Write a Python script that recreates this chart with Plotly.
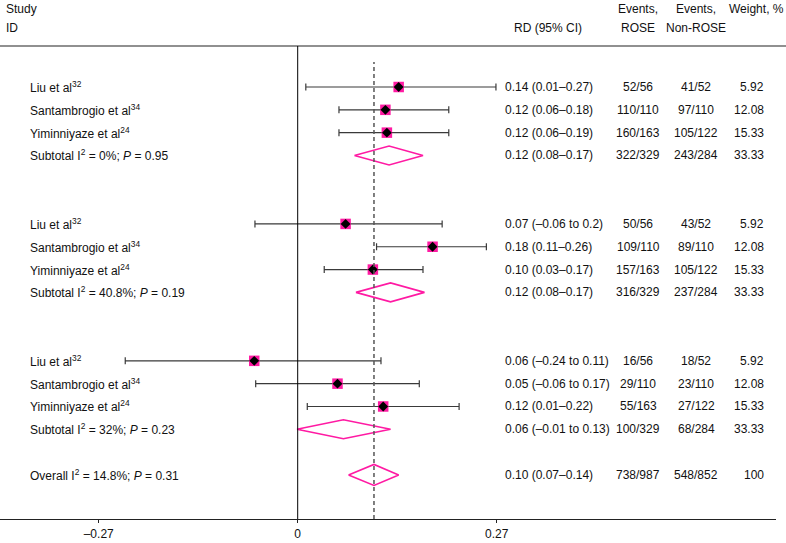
import plotly.graph_objects as go

# ---------------- data ----------------
studies = ["Liu et al<sup>32</sup>", "Santambrogio et al<sup>34</sup>", "Yiminniyaze et al<sup>24</sup>"]

# study estimates and CI limits as drawn, per subgroup
g_est = [[0.137, 0.119, 0.121], [0.065, 0.183, 0.102], [-0.059, 0.054, 0.116]]
g_lo = [[0.011, 0.056, 0.056], [-0.058, 0.107, 0.036], [-0.234, -0.057, 0.013]]
g_hi = [[0.269, 0.205, 0.205], [0.196, 0.256, 0.170], [0.113, 0.165, 0.219]]

sub_est = [0.124, 0.126, 0.062]
sub_lo = [0.077, 0.079, -0.001]
sub_hi = [0.170, 0.172, 0.126]
sub_labels = [
    "Subtotal I<sup>2</sup> = 0%; <i>P</i> = 0.95",
    "Subtotal I<sup>2</sup> = 40.8%; <i>P</i> = 0.19",
    "Subtotal I<sup>2</sup> = 32%; <i>P</i> = 0.23",
]

overall_est = 0.1035
overall_lo = 0.069
overall_hi = 0.137
overall_label = "Overall I<sup>2</sup> = 14.8%; <i>P</i> = 0.31"

rd_text = [
    ["0.14 (0.01–0.27)", "0.12 (0.06–0.18)", "0.12 (0.06–0.19)", "0.12 (0.08–0.17)"],
    ["0.07 (–0.06 to 0.2)", "0.18 (0.11–0.26)", "0.10 (0.03–0.17)", "0.12 (0.08–0.17)"],
    ["0.06 (–0.24 to 0.11)", "0.05 (–0.06 to 0.17)", "0.12 (0.01–0.22)", "0.06 (–0.01 to 0.13)"],
]
ev_rose = [
    ["52/56", "110/110", "160/163", "322/329"],
    ["50/56", "109/110", "157/163", "316/329"],
    ["16/56", "29/110", "55/163", "100/329"],
]
ev_non = [
    ["41/52", "97/110", "105/122", "243/284"],
    ["43/52", "89/110", "105/122", "237/284"],
    ["18/52", "23/110", "27/122", "68/284"],
]
weights = [
    ["5.92", "12.08", "15.33", "33.33"],
    ["5.92", "12.08", "15.33", "33.33"],
    ["5.92", "12.08", "15.33", "33.33"],
]
overall_rd = "0.10 (0.07–0.14)"
overall_rose = "738/987"
overall_non = "548/852"
overall_w = "100"

tick_vals = [-0.27, 0, 0.27]
tick_text = ["–0.27", "0", "0.27"]

# ---------------- layout helpers ----------------
W, H = 786, 543
PLOT_R = 776          # right edge of plot area (px)
PLOT_B = 519          # bottom of plot area (px)
PINK = "#FF1AA3"
FONT = "Liberation Sans"


def px(p):
    return p / PLOT_R


def py(p):
    return (PLOT_B - p) / PLOT_B


# row positions: 3 studies + subtotal per group, 2 blank rows between groups
group_rows = []
study_rows = []
sub_rows = []
r = 0
for g in range(3):
    rows = [r, r + 1, r + 2]
    study_rows.append(rows)
    sub_rows.append(r + 3)
    group_rows.append(rows + [r + 3])
    r += 6
overall_row = sub_rows[-1] + 2

fig = go.Figure()

# CI lines
xs, ys, plus, minus = [], [], [], []
for g in range(3):
    for i in range(3):
        xs.append(g_est[g][i])
        ys.append(study_rows[g][i])
        plus.append(g_hi[g][i] - g_est[g][i])
        minus.append(g_est[g][i] - g_lo[g][i])

fig.add_trace(go.Scatter(
    x=xs, y=ys, mode="markers", marker=dict(size=1, color="rgba(0,0,0,0)"),
    error_x=dict(type="data", symmetric=False, array=plus, arrayminus=minus,
                 color="#3a3a3a", thickness=1.2, width=3.5),
    hoverinfo="skip", showlegend=False))

# pink squares
fig.add_trace(go.Scatter(
    x=xs, y=ys, mode="markers",
    marker=dict(symbol="square", size=10.5, color=PINK, line=dict(width=0)),
    showlegend=False))
# black diamonds
fig.add_trace(go.Scatter(
    x=xs, y=ys, mode="markers",
    marker=dict(symbol="diamond", size=7.6, color="black", line=dict(width=0)),
    showlegend=False))

# subtotal and overall diamonds
def add_diamond(lo, est, hi, row, h):
    fig.add_trace(go.Scatter(
        x=[lo, est, hi, est, lo], y=[row, row - h, row, row + h, row],
        mode="lines", line=dict(color=PINK, width=1.6), showlegend=False,
        hoverinfo="skip"))


for g in range(3):
    add_diamond(sub_lo[g], sub_est[g], sub_hi[g], sub_rows[g], 0.415)
add_diamond(overall_lo, overall_est, overall_hi, overall_row, 0.46)

annotations = []


def txt(x, y, text, anchor="left", yref="y"):
    annotations.append(dict(x=x, y=y, xref="paper", yref=yref, text=text,
                            showarrow=False, xanchor=anchor, yanchor="middle",
                            font=dict(family=FONT, size=12, color="#111")))


# headers
txt(px(4), py(9), "Study", yref="paper")
txt(px(4), py(28), "ID", yref="paper")
txt(px(548), py(28), "RD (95% CI)", "center", yref="paper")
txt(px(638), py(9), "Events,", "center", yref="paper")
txt(px(638), py(28), "ROSE", "center", yref="paper")
txt(px(696), py(9), "Events,", "center", yref="paper")
txt(px(696), py(28), "Non-ROSE", "center", yref="paper")
txt(px(786), py(9), "Weight, %", "right", yref="paper")

for g in range(3):
    labels = studies + [sub_labels[g]]
    for i, row in enumerate(group_rows[g]):
        txt(px(27.5), row, labels[i])
        txt(px(503), row, rd_text[g][i])
        txt(px(638), row, ev_rose[g][i], "center")
        txt(px(696), row, ev_non[g][i], "center")
        txt(px(766), row, weights[g][i], "right")

txt(px(27.5), overall_row, overall_label)
txt(px(503), overall_row, overall_rd)
txt(px(638), overall_row, overall_rose, "center")
txt(px(696), overall_row, overall_non, "center")
txt(px(766), overall_row, overall_w, "right")

shapes = [
    # header rule
    dict(type="line", xref="paper", yref="paper", x0=0, x1=W / PLOT_R,
         y0=py(46), y1=py(46), line=dict(color="#222", width=1.2)),
    # null line
    dict(type="line", xref="x", yref="paper", x0=0, x1=0, y0=0, y1=py(46),
         line=dict(color="black", width=1)),
    # overall estimate dashed line
    dict(type="line", xref="x", yref="paper", x0=overall_est, x1=overall_est,
         y0=0, y1=py(62), line=dict(color="#555", width=1.5, dash="4px,3px")),
]

row_px = 22.82
top_row = -87 / row_px
bottom_row = (PLOT_B - 87) / row_px

fig.update_layout(
    width=W, height=H,
    margin=dict(l=0, r=W - PLOT_R, t=0, b=H - PLOT_B),
    paper_bgcolor="white", plot_bgcolor="white",
    font=dict(family=FONT, size=12, color="#111"),
    xaxis=dict(range=[(0 - 297.7) / 737, (PLOT_R - 297.7) / 737],
               showgrid=False, zeroline=False, showline=True,
               linecolor="#222", linewidth=1.2, ticks="outside", ticklen=3,
               tickcolor="#222", tickvals=tick_vals, ticktext=tick_text,
               tickfont=dict(family=FONT, size=12, color="#111")),
    yaxis=dict(range=[bottom_row, top_row], visible=False),
    annotations=annotations, shapes=shapes, showlegend=False,
)

fig.write_html("out.html")
